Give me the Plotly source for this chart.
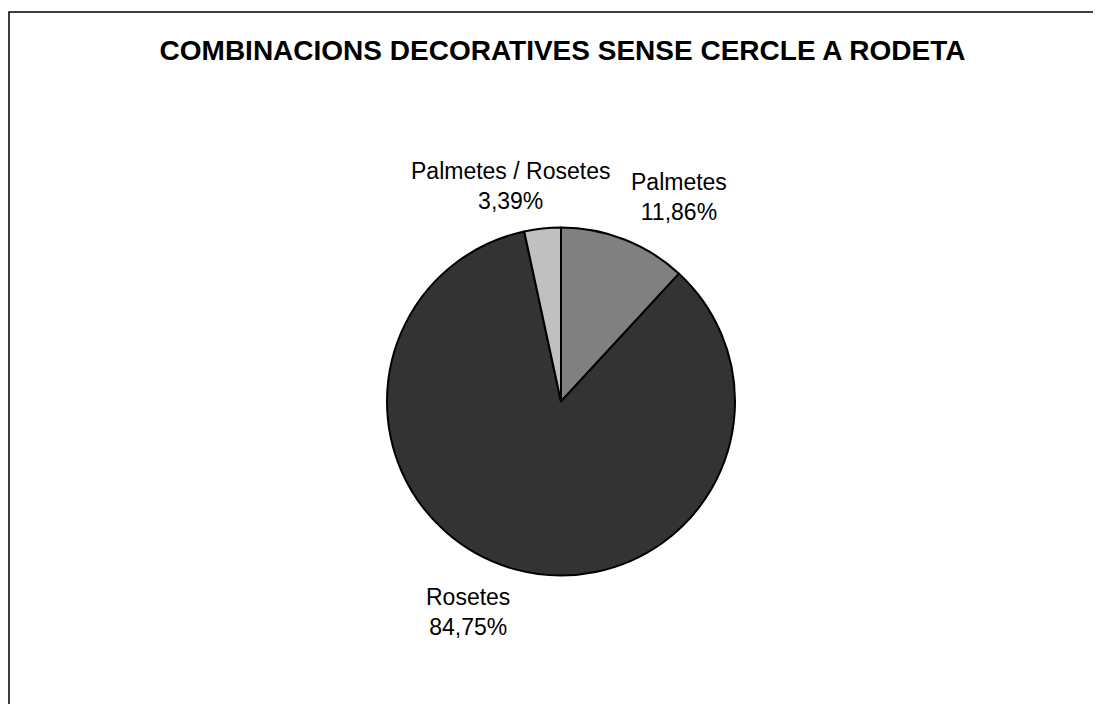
import math
import plotly.graph_objects as go

# dades (ordre horari des de les 12)
categories = ["Palmetes", "Rosetes", "Palmetes / Rosetes"]
values = [7, 50, 2]
colors = ["#808080", "#333333", "#c0c0c0"]

W, H = 1101, 704
FONT = "Liberation Sans, Arial, sans-serif"

# geometria del pastis (px dins la figura)
cx, cy, r = 553, 393.5, 174
r_lab = 187  # radi on s'ancoren les etiquetes, estil Excel

fig = go.Figure(go.Pie(
    labels=categories,
    values=values,
    sort=False,
    direction="clockwise",
    rotation=0,
    marker=dict(colors=colors, line=dict(color="#000000", width=2)),
    textinfo="none",
    showlegend=False,
    hoverinfo="label+percent",
    domain=dict(x=[(cx - r) / W, (cx + r) / W],
                y=[(H - cy - r) / H, (H - cy + r) / H]),
))

# etiquetes fora del pastis, ancorades segons l'angle mig de cada sector
total = sum(values)
acc = 0
annotations = []
for lab, v in zip(categories, values):
    mid = (acc + v / 2) / total * 2 * math.pi
    acc += v
    s, c = math.sin(mid), math.cos(mid)
    px = cx + r_lab * s
    py = cy - r_lab * c
    xshift = 0
    if s > 0.2:
        xa = "left"
    elif s < -0.2:
        xa = "right"
    else:
        xa = "center"
        xshift = s * 290  # etiquetes quasi verticals: es desplacen cap al costat
    ya = "bottom" if c > 0 else "top"
    pct = f"{v / total * 100:.2f}".replace(".", ",") + "%"
    annotations.append(dict(
        x=px / W, y=1 - py / H, xref="paper", yref="paper",
        text=f"{lab}<br>{pct}", showarrow=False,
        xanchor=xa, yanchor=ya, align="center", xshift=xshift,
        font=dict(family=FONT, size=23, color="#000000"),
    ))

fig.update_layout(
    width=W, height=H, autosize=False,
    margin=dict(l=0, r=0, t=0, b=0),
    paper_bgcolor="#ffffff",
    plot_bgcolor="#ffffff",
    font=dict(family=FONT, color="#000000"),
    title=dict(
        text="<b>COMBINACIONS DECORATIVES SENSE CERCLE A RODETA</b>",
        x=554.5 / W, xanchor="center",
        y=1 - 42 / H, yanchor="middle",
        font=dict(family=FONT, size=28, color="#000000"),
    ),
    annotations=annotations,
    shapes=[dict(
        type="rect", xref="paper", yref="paper",
        x0=1 / W, x1=1.02, y0=-0.02, y1=1 - 4 / H,
        line=dict(color="#000000", width=1.5),
    )],
)

fig.write_html("out.html")
